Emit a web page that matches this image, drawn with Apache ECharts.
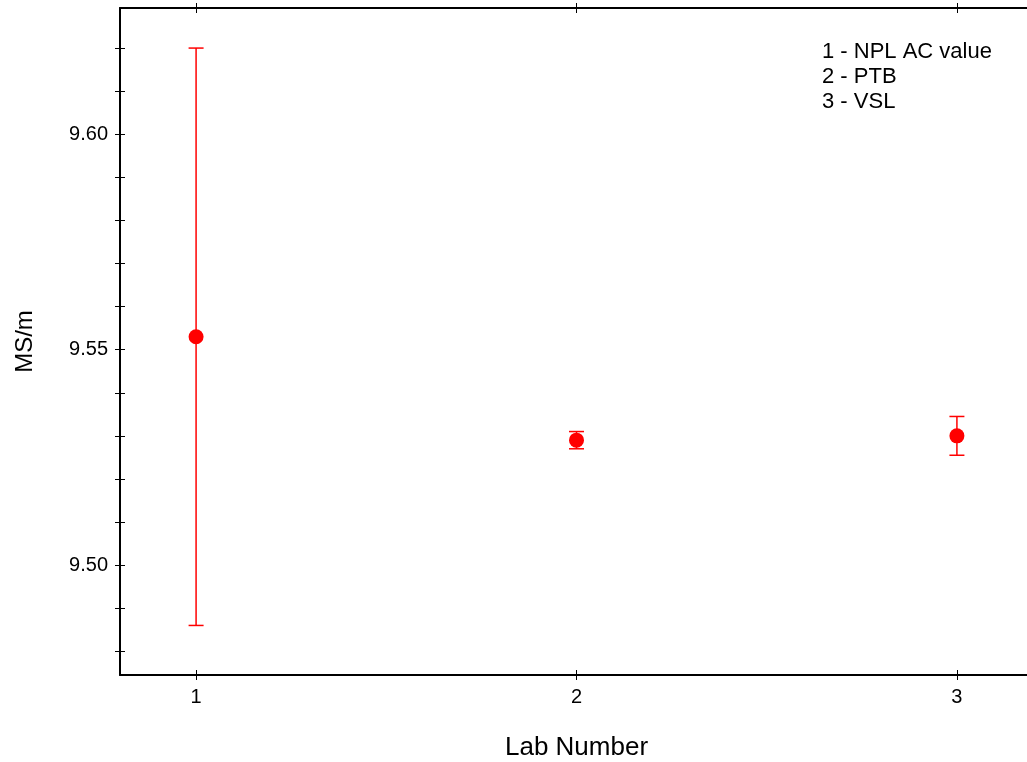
<!DOCTYPE html>
<html>
<head>
<meta charset="utf-8">
<title>MS/m by lab</title>
<script src="https://cdn.jsdelivr.net/npm/echarts@6/dist/echarts.min.js"></script>
<style>
    html, body { margin: 0; padding: 0; background: #fff; }
    #chart { width: 1027px; height: 762px; }
</style>
</head>
<body>
<div id="chart"></div>
<script>

// Data
// ------------------------------

var labs = [1, 2, 3];
var values = [9.553, 9.529, 9.530];
var uncertainties = [0.067, 0.002, 0.0045];
var legendLines = ['1 - NPL AC value', '2 - PTB', '3 - VSL'];

var xTicks = [1, 2, 3];
var yLabelTicks = [9.50, 9.55, 9.60];
var yTicks = [9.48, 9.49, 9.50, 9.51, 9.52, 9.53, 9.54, 9.55, 9.56, 9.57, 9.58, 9.59, 9.60, 9.61, 9.62];


// Chart
// ------------------------------

var chart_element = document.getElementById('chart');
var chart = echarts.init(chart_element, null, { renderer: 'canvas' });

var font = 'Liberation Sans, Arial, sans-serif';
var X_MIN = 0.8, X_MAX = 3.2;
var Y_MIN = 9.4745, Y_MAX = 9.6293;

var points = labs.map(function(lab, i) { return [lab, values[i]]; });
var bars = labs.map(function(lab, i) {
    return [lab, values[i] - uncertainties[i], values[i] + uncertainties[i]];
});

// x axis factory (bottom/top, ticks out/in)
function makeX(position, inside, showLine, showLabel) {
    return {
        type: 'value',
        position: position,
        min: X_MIN,
        max: X_MAX,
        axisLine: { show: showLine, onZero: false, lineStyle: { color: '#000', width: 2 } },
        axisTick: { show: true, inside: inside, length: 5, customValues: xTicks, lineStyle: { color: '#000', width: 1 } },
        axisLabel: { show: showLabel, customValues: xTicks, margin: 12, color: '#000', fontSize: 20, fontFamily: font },
        splitLine: { show: false }
    };
}

function makeY(inside, showLine, showLabel) {
    return {
        type: 'value',
        position: 'left',
        min: Y_MIN,
        max: Y_MAX,
        axisLine: { show: showLine, onZero: false, lineStyle: { color: '#000', width: 2 } },
        axisTick: { show: true, inside: inside, length: 5, customValues: yTicks, lineStyle: { color: '#000', width: 1 } },
        axisLabel: {
            show: showLabel, customValues: yLabelTicks, margin: 12, color: '#000', fontSize: 20, fontFamily: font,
            formatter: function(v) { return v.toFixed(2); }
        },
        splitLine: { show: false }
    };
}

var xBottom = makeX('bottom', false, true, true);
xBottom.name = 'Lab Number';
xBottom.nameLocation = 'middle';
xBottom.nameGap = 60;
xBottom.nameTextStyle = { color: '#000', fontSize: 26, fontFamily: font };

var yMain = makeY(false, true, true);
yMain.name = 'MS/m';
yMain.nameLocation = 'middle';
yMain.nameGap = 83;
yMain.nameTextStyle = { color: '#000', fontSize: 24, fontFamily: font };

chart.setOption({
    animation: false,
    backgroundColor: '#fff',
    grid: { left: 120, top: 8, width: 913, bottom: 87, containLabel: false, outerBoundsMode: 'none' },

    title: {
        text: legendLines.join('\n'),
        left: 817,
        top: 34,
        textStyle: { color: '#000', fontSize: 22, fontWeight: 'normal', lineHeight: 25, fontFamily: font }
    },

    xAxis: [
        xBottom,
        makeX('bottom', true, false, false),
        makeX('top', false, true, false),
        makeX('top', true, false, false)
    ],
    yAxis: [
        yMain,
        makeY(true, false, false)
    ],

    series: [
        {
            type: 'custom',
            name: 'uncertainty',
            data: bars,
            z: 2,
            renderItem: function(params, api) {
                var x = api.value(0);
                var lo = api.coord([x, api.value(1)]);
                var hi = api.coord([x, api.value(2)]);
                var cap = 7.5;
                var style = { stroke: '#ff0000', lineWidth: 1.5 };
                return {
                    type: 'group',
                    children: [
                        { type: 'line', shape: { x1: lo[0], y1: lo[1], x2: hi[0], y2: hi[1] }, style: style },
                        { type: 'line', shape: { x1: hi[0] - cap, y1: hi[1], x2: hi[0] + cap, y2: hi[1] }, style: style },
                        { type: 'line', shape: { x1: lo[0] - cap, y1: lo[1], x2: lo[0] + cap, y2: lo[1] }, style: style }
                    ]
                };
            }
        },
        {
            type: 'scatter',
            name: 'value',
            data: points,
            symbol: 'circle',
            symbolSize: 15,
            z: 3,
            itemStyle: { color: '#ff0000', opacity: 1 }
        }
    ]
});


// Resize
// ------------------------------

window.addEventListener('resize', function() {
    chart.resize();
});
</script>
</body>
</html>
